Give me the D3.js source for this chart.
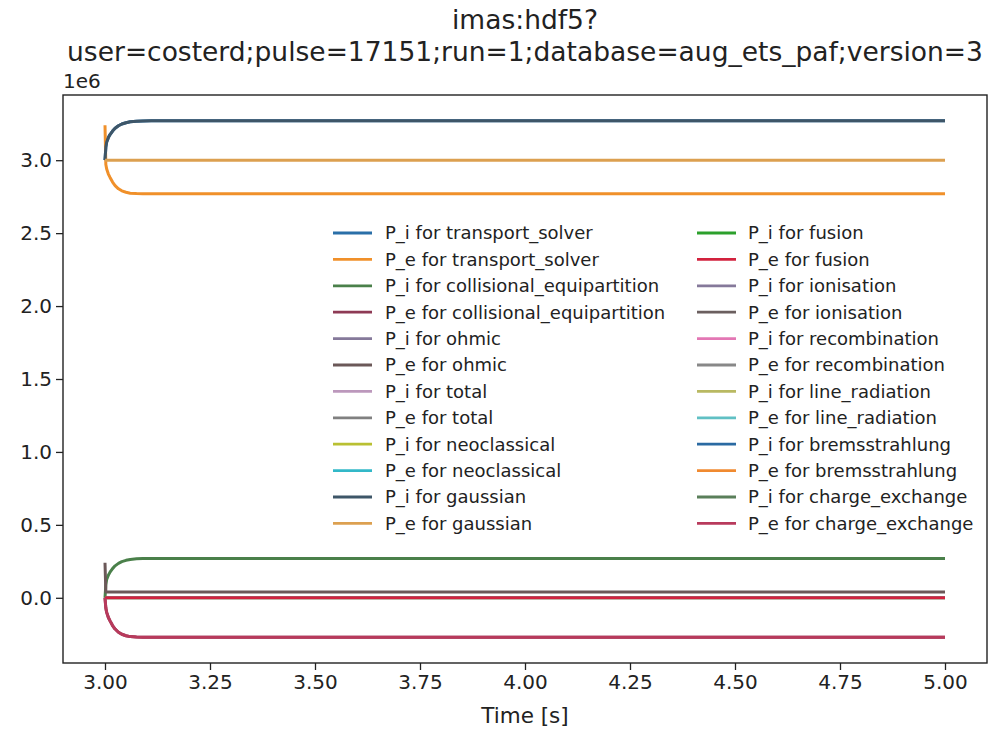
<!DOCTYPE html>
<html>
<head>
<meta charset="utf-8">
<script src="https://cdn.jsdelivr.net/npm/d3@7"></script>
<style>
  html, body { margin: 0; padding: 0; background: #fff; }
  svg { display: block; font-family: "DejaVu Sans", sans-serif; }
</style>
</head>
<body>
<svg id="chart" width="989" height="731"></svg>
<script>
// Time base shared by every heating-power series [s]
const time = [3.000, 3.002, 3.004, 3.008, 3.012, 3.018, 3.024, 3.032, 3.040, 3.050,
              3.060, 3.075, 3.090, 3.110, 3.150, 3.250, 3.500, 4.000, 4.500, 5.000];

// Power series in units of 1e6 W (empty arrays: no data for that source)
const piTransportSolver = [3.000, 3.090, 3.125, 3.155, 3.176, 3.200, 3.219, 3.236, 3.248, 3.257,
                           3.263, 3.267, 3.269, 3.270, 3.270, 3.270, 3.270, 3.270, 3.270, 3.270];
const peTransportSolver = [3.240, 2.970, 2.940, 2.905, 2.882, 2.850, 2.826, 2.804, 2.790, 2.780,
                           2.774, 2.771, 2.770, 2.770, 2.770, 2.770, 2.770, 2.770, 2.770, 2.770];
const piCollisional = [0.000, 0.090, 0.125, 0.155, 0.176, 0.200, 0.219, 0.236, 0.248, 0.257,
                       0.263, 0.267, 0.269, 0.270, 0.270, 0.270, 0.270, 0.270, 0.270, 0.270];
const peCollisional = [0.000, -0.070, -0.100, -0.135, -0.158, -0.190, -0.214, -0.236, -0.250, -0.260,
                       -0.266, -0.269, -0.270, -0.270, -0.270, -0.270, -0.270, -0.270, -0.270, -0.270];
const peOhmic = [0.240, 0.040, 0.040, 0.040, 0.040, 0.040, 0.040, 0.040, 0.040, 0.040,
                 0.040, 0.040, 0.040, 0.040, 0.040, 0.040, 0.040, 0.040, 0.040, 0.040];
const piGaussian = [3.000, 3.090, 3.125, 3.155, 3.176, 3.200, 3.219, 3.236, 3.248, 3.257,
                    3.263, 3.267, 3.269, 3.270, 3.270, 3.270, 3.270, 3.270, 3.270, 3.270];
const peGaussian = [3.000, 3.000, 3.000, 3.000, 3.000, 3.000, 3.000, 3.000, 3.000, 3.000,
                    3.000, 3.000, 3.000, 3.000, 3.000, 3.000, 3.000, 3.000, 3.000, 3.000];
const zeroPower = [0, 0, 0, 0, 0, 0, 0, 0, 0, 0, 0, 0, 0, 0, 0, 0, 0, 0, 0, 0];
const noData = [];

const seriesLabels = [
  "P_i for transport_solver", "P_e for transport_solver",
  "P_i for collisional_equipartition", "P_e for collisional_equipartition",
  "P_i for ohmic", "P_e for ohmic",
  "P_i for total", "P_e for total",
  "P_i for neoclassical", "P_e for neoclassical",
  "P_i for gaussian", "P_e for gaussian",
  "P_i for fusion", "P_e for fusion",
  "P_i for ionisation", "P_e for ionisation",
  "P_i for recombination", "P_e for recombination",
  "P_i for line_radiation", "P_e for line_radiation",
  "P_i for bremsstrahlung", "P_e for bremsstrahlung",
  "P_i for charge_exchange", "P_e for charge_exchange"
];
const seriesValues = [
  piTransportSolver, peTransportSolver,
  piCollisional, peCollisional,
  noData, peOhmic,
  noData, noData,
  zeroPower, zeroPower,
  piGaussian, peGaussian,
  noData, zeroPower,
  noData, noData,
  noData, noData,
  noData, noData,
  noData, noData,
  noData, peCollisional
];
const seriesColors = [
  "#2a6fa8", "#f0902a",
  "#4a804a", "#8e3a55",
  "#85799a", "#6b5858",
  "#bc98bc", "#808080",
  "#b9c032", "#32b8c8",
  "#3e5668", "#dca050",
  "#2ca02c", "#d2223e",
  "#85799a", "#6b5f5f",
  "#e377b4", "#888888",
  "#b9b962", "#60c0c4",
  "#2a6aa2", "#f08a30",
  "#5a7f5a", "#b83a5c"
];

const xTicks = [3.00, 3.25, 3.50, 3.75, 4.00, 4.25, 4.50, 4.75, 5.00];
const yTicks = [0.0, 0.5, 1.0, 1.5, 2.0, 2.5, 3.0];

const titleLines = ["imas:hdf5?", "user=costerd;pulse=17151;run=1;database=aug_ets_paf;version=3"];

const W = 989, H = 731;
const plot = { left: 63, right: 987, top: 95, bottom: 663 };

const svg = d3.select("#chart");

// Autoscale with 5% padding, like the plotting library defaults
const allValues = seriesValues.flat();
const yMin = d3.min(allValues), yMax = d3.max(allValues);
const yPad = (yMax - yMin) * 0.05;
const xMin = d3.min(time), xMax = d3.max(time);
const xPad = (xMax - xMin) * 0.05;

const x = d3.scaleLinear().domain([xMin - xPad, xMax + xPad]).range([plot.left, plot.right]);
const y = d3.scaleLinear().domain([yMin - yPad, yMax + yPad]).range([plot.bottom, plot.top]);

// Lines
const line = d3.line().x((d, i) => x(time[i])).y(d => y(d));
const g = svg.append("g");
seriesValues.forEach((vals, k) => {
  if (!vals.length) return;
  g.append("path")
    .attr("d", line(vals))
    .attr("fill", "none")
    .attr("stroke", seriesColors[k])
    .attr("stroke-width", 3)
    .attr("stroke-linejoin", "round")
    .attr("stroke-linecap", "butt");
});

// Axes
const xAxis = d3.axisBottom(x).tickValues(xTicks).tickFormat(d3.format(".2f")).tickSizeOuter(0).tickSize(7).tickPadding(5);
const yAxis = d3.axisLeft(y).tickValues(yTicks).tickFormat(d3.format(".1f")).tickSizeOuter(0).tickSize(7).tickPadding(4);

const gx = svg.append("g").attr("transform", `translate(0,${plot.bottom})`).call(xAxis);
const gy = svg.append("g").attr("transform", `translate(${plot.left},0)`).call(yAxis);
[gx, gy].forEach(ax => {
  ax.select(".domain").remove();
  ax.selectAll(".tick line").attr("stroke", "#222").attr("stroke-width", 1.3);
  ax.selectAll(".tick text").attr("fill", "#222").style("font-size", "20px").style("font-family", "DejaVu Sans");
});

// Frame
svg.append("rect")
  .attr("x", plot.left).attr("y", plot.top)
  .attr("width", plot.right - plot.left).attr("height", plot.bottom - plot.top)
  .attr("fill", "none").attr("stroke", "#222").attr("stroke-width", 1.4);

// Offset label for the y scale
svg.append("text").attr("x", plot.left).attr("y", 88)
  .attr("fill", "#222").style("font-size", "20px").text("1e6");

// Title
titleLines.forEach((t, i) => {
  svg.append("text")
    .attr("x", (plot.left + plot.right) / 2).attr("y", 29 + i * 32)
    .attr("text-anchor", "middle").attr("fill", "#222")
    .style("font-size", "26.5px").text(t);
});

// X axis label
svg.append("text").attr("x", (plot.left + plot.right) / 2).attr("y", 723)
  .attr("text-anchor", "middle").attr("fill", "#222")
  .style("font-size", "21.5px").text("Time [s]");

// Legend: two columns of twelve entries
const legend = svg.append("g");
const legCols = [{ sx: 333, tx: 385 }, { sx: 697, tx: 748 }];
const rowY0 = 233, rowStep = 26.4;
seriesLabels.forEach((lab, k) => {
  const col = legCols[Math.floor(k / 12)];
  const yy = rowY0 + (k % 12) * rowStep;
  legend.append("line")
    .attr("x1", col.sx).attr("x2", col.sx + 39)
    .attr("y1", yy).attr("y2", yy)
    .attr("stroke", seriesColors[k]).attr("stroke-width", 2.8);
  legend.append("text")
    .attr("x", col.tx).attr("y", yy).attr("dy", "0.35em")
    .attr("fill", "#222").style("font-size", "18px").text(lab);
});
</script>
</body>
</html>
